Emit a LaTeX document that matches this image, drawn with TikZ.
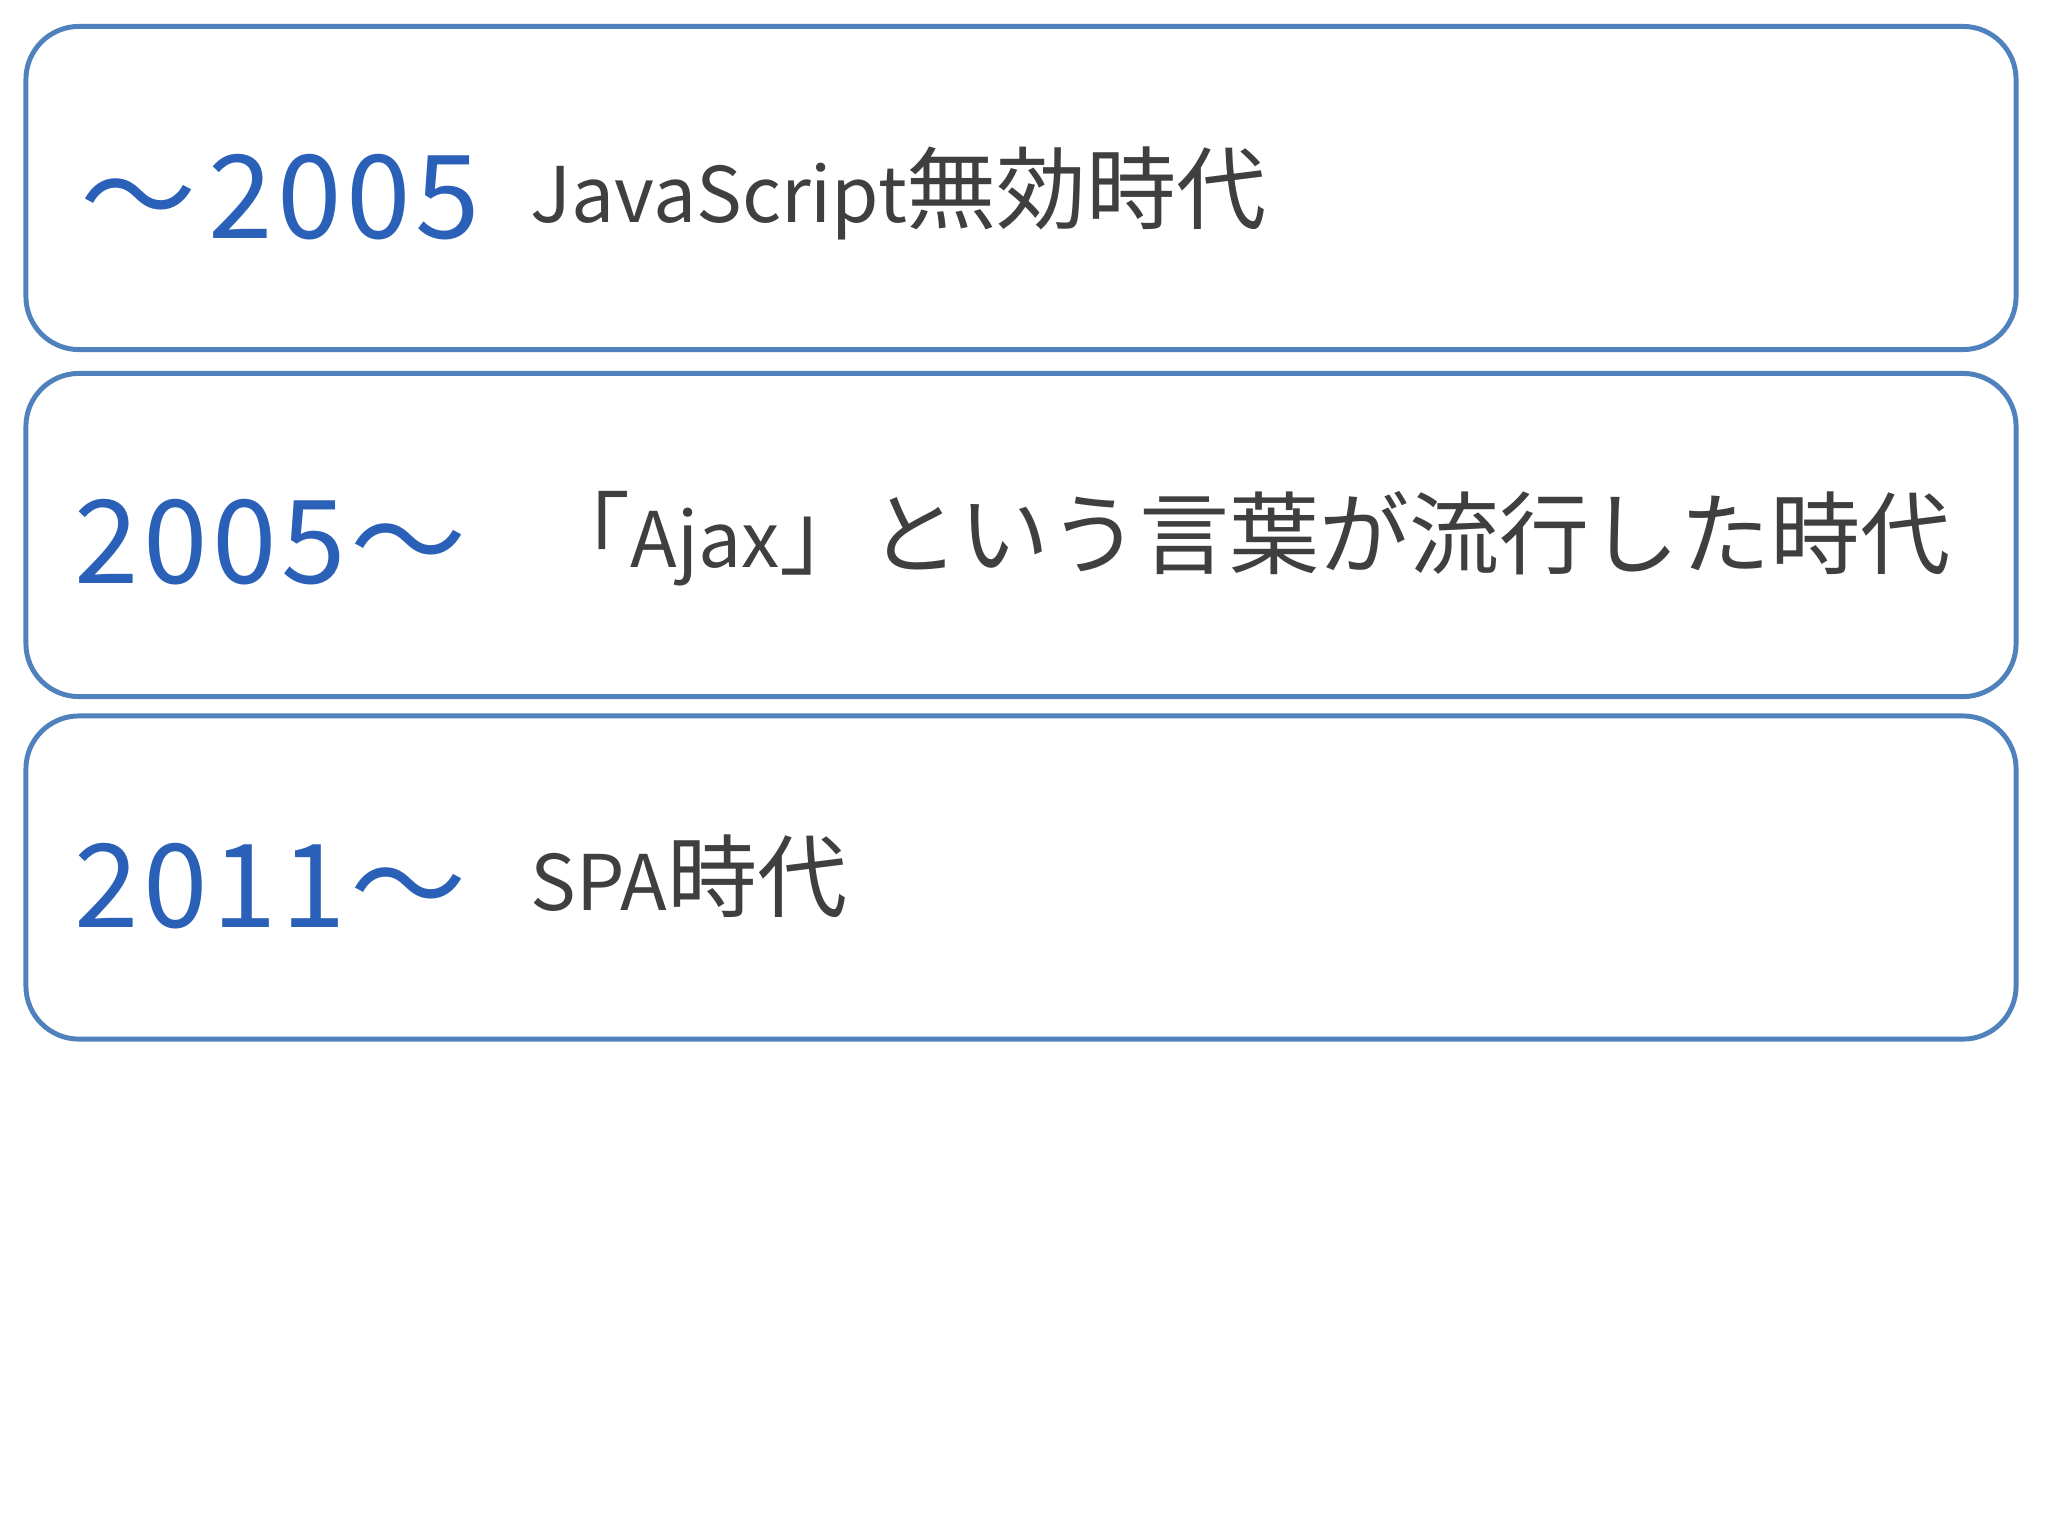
\documentclass[tikz,border=0pt]{standalone}
\usepackage{fontspec}
\setmainfont{Noto Sans CJK JP}
\definecolor{boxblue}{HTML}{4F81BD}
\definecolor{yearblue}{HTML}{2A60B8}
\definecolor{textgray}{HTML}{3F3F3F}
\newcommand\latinpart[1]{{\fontsize{21.8pt}{26pt}\selectfont #1}}

\begin{document}
\begin{tikzpicture}[x=0.01cm,y=-0.01cm,
  erabox/.style={draw=boxblue,line width=1.4pt,rounded corners=0.53cm,minimum width=19.89cm,minimum height=3.23cm,inner sep=0pt},
  yeartext/.style={anchor=base west,text=yearblue,inner sep=0pt,font=\fontsize{33pt}{36pt}\selectfont\addfontfeature{LetterSpace=4}},
  eratext/.style={anchor=base west,text=textgray,inner sep=0pt,font=\fontsize{25.6pt}{30pt}\selectfont}]
  \fill[white] (0,0) rectangle (2048,1536);
  \useasboundingbox (0,0) rectangle (2048,1536);
  % the three periods
  \node[erabox] (box1) at (1021,188) {};
  \node[erabox] (box2) at (1021,535) {};
  \node[erabox] (box3) at (1021,877.5) {};
  \node[yeartext] (year1) at (80,238) {～\hspace{0.12cm}2005};
  \node[eratext] (era1) at (530,222) {\latinpart{JavaScript}無効時代};
  \node[yeartext] (year2) at (74,583) {2005～};
  \node[eratext] (era2) at (540,567) {「\latinpart{Ajax}」という言葉が流行した時代};
  \node[yeartext] (year3) at (74,927) {2011～};
  \node[eratext] (era3) at (530,910) {\latinpart{SPA}時代};
\end{tikzpicture}
\end{document}
